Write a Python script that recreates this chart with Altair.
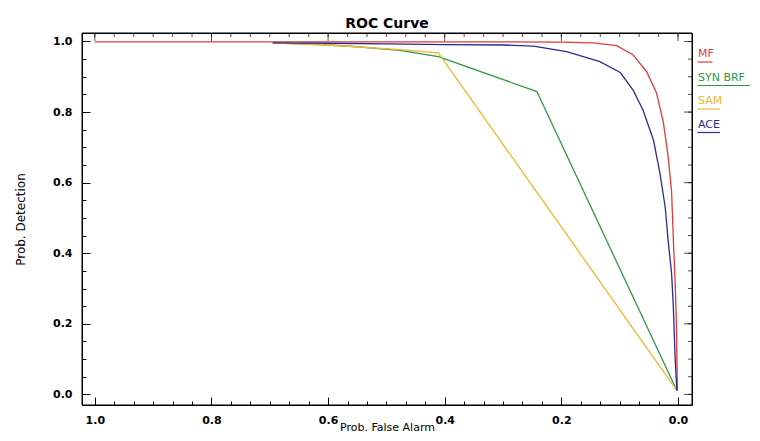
import altair as alt
import pandas as pd

# ---- data (x = Prob. False Alarm, y = Prob. Detection)
series_names = ["MF", "SYN BRF", "SAM", "ACE"]
series_colors = ["#e03a3a", "#2f9a45", "#f2b630", "#2b2b92"]

mf_fa = [1.0, 0.6, 0.3, 0.2, 0.145, 0.105, 0.077, 0.054, 0.037, 0.025, 0.017, 0.011, 0.008, 0.005, 0.003, 0.001]
mf_pd = [0.999, 0.999, 0.999, 0.998, 0.996, 0.988, 0.962, 0.915, 0.855, 0.77, 0.675, 0.575, 0.44, 0.32, 0.22, 0.01]

syn_fa = [0.695, 0.6, 0.55, 0.477, 0.411, 0.242, 0.002]
syn_pd = [0.996, 0.99, 0.985, 0.975, 0.957, 0.858, 0.011]

sam_fa = [0.695, 0.6, 0.477, 0.411, 0.002]
sam_pd = [0.996, 0.99, 0.977, 0.968, 0.011]

ace_fa = [0.695, 0.6, 0.5, 0.4, 0.3, 0.248, 0.191, 0.134, 0.099, 0.077, 0.060, 0.042, 0.031, 0.022, 0.017, 0.011, 0.008, 0.005, 0.002]
ace_pd = [0.996, 0.995, 0.993, 0.991, 0.99, 0.987, 0.971, 0.943, 0.912, 0.862, 0.806, 0.72, 0.627, 0.531, 0.437, 0.343, 0.248, 0.106, 0.011]

x_major = [0.0, 0.2, 0.4, 0.6, 0.8, 1.0]
x_minor = [round(k / 30, 4) for k in range(31)]
y_major = [0.0, 0.2, 0.4, 0.6, 0.8, 1.0]
y_minor = [round(k * 0.05, 3) for k in range(21)]

x_lo, x_hi = -0.024, 1.022
y_lo, y_hi = -0.03, 1.024

rows = []
for name, fa, pdv in [("MF", mf_fa, mf_pd), ("SYN BRF", syn_fa, syn_pd),
                      ("SAM", sam_fa, sam_pd), ("ACE", ace_fa, ace_pd)]:
    for i, (a, b) in enumerate(zip(fa, pdv)):
        rows.append({"series": name, "fa": a, "pd": b, "idx": i})
df = pd.DataFrame(rows)

W, H = 610, 372
FONT = "DejaVu Sans"
xscale = alt.Scale(domain=[x_lo, x_hi], reverse=True, nice=False, zero=False)
yscale = alt.Scale(domain=[y_lo, y_hi], nice=False, zero=False)

common = dict(grid=False, tickColor="black", tickWidth=1, domain=False,
              labelFlush=False, labelOverlap=False)

label_color_expr = ""
for n, c in zip(series_names[:-1], series_colors[:-1]):
    label_color_expr += f"datum.value === '{n}' ? '{c}' : "
label_color_expr += f"'{series_colors[-1]}'"

# underline drawn as the legend symbol, running under the label text
underline_expr = "'M1.1,1.6L' + (1.1 + length(datum.value) * 1.5) + ',1.6'"

legend = alt.Legend(
    title=None, orient="none", legendX=604, legendY=15, padding=0,
    labelFont=FONT, labelFontSize=11, labelColor={"expr": label_color_expr},
    labelOffset=0, symbolOffset=0, symbolSize=100, symbolStrokeWidth=1.2,
    symbolType={"expr": underline_expr}, rowPadding=6.5, labelBaseline="middle",
)

base = alt.Chart(df)

lines = base.mark_line(strokeWidth=1.3).encode(
    x=alt.X("fa:Q", scale=xscale, axis=alt.Axis(
        orient="bottom", values=x_major, offset=-8, tickSize=8, labelPadding=9,
        format=".1f", labelFont=FONT, labelFontSize=11,
        labelFontWeight="bold", labelColor="black", title="Prob. False Alarm",
        titleFont=FONT, titleFontSize=11, titleFontWeight="normal",
        titleColor="black", titleY=33, titleBaseline="alphabetic", **common)),
    y=alt.Y("pd:Q", scale=yscale, axis=alt.Axis(
        orient="left", values=y_major, offset=-8, tickSize=8, labelPadding=10,
        format=".1f", labelFont=FONT, labelFontSize=11,
        labelFontWeight="bold", labelColor="black", title="Prob. Detection",
        titleFont=FONT, titleFontSize=12, titleFontWeight="normal",
        titleColor="black", titleX=-70, titleBaseline="middle", **common)),
    color=alt.Color("series:N", scale=alt.Scale(domain=series_names, range=series_colors),
                    legend=legend),
    order=alt.Order("idx:Q"),
)

minor_bl = base.mark_line(opacity=0).encode(
    x=alt.X("fa:Q", scale=xscale, axis=alt.Axis(
        orient="bottom", values=x_minor, offset=-4, tickSize=4, labels=False,
        title=None, **common)),
    y=alt.Y("pd:Q", scale=yscale, axis=alt.Axis(
        orient="left", values=y_minor, offset=-4, tickSize=4, labels=False,
        title=None, **common)),
    detail="series:N",
    order=alt.Order("idx:Q"),
)

# plot frame drawn at the scale-domain limits
frame = alt.Chart(pd.DataFrame({"k": [0]})).mark_rect(
    filled=False, stroke="black", strokeWidth=1
).encode(
    x=alt.X(datum=x_lo, scale=xscale, axis=None), x2=alt.X2(datum=x_hi),
    y=alt.Y(datum=y_lo, scale=yscale, axis=None), y2=alt.Y2(datum=y_hi),
)

# inward ticks on the top and right edges
def top_ticks(vals, size):
    return alt.Chart(pd.DataFrame({"v": vals})).mark_tick(
        orient="vertical", size=size, thickness=1, color="black", yOffset=size / 2
    ).encode(x=alt.X("v:Q", scale=xscale, axis=None),
             y=alt.Y(datum=y_hi, scale=yscale, axis=None))


def right_ticks(vals, size):
    return alt.Chart(pd.DataFrame({"v": vals})).mark_tick(
        orient="horizontal", size=size, thickness=1, color="black", xOffset=-size / 2
    ).encode(y=alt.Y("v:Q", scale=yscale, axis=None),
             x=alt.X(datum=x_lo, scale=xscale, axis=None))


chart = alt.layer(
    lines, minor_bl, frame,
    top_ticks(x_major, 8), top_ticks(x_minor, 4),
    right_ticks(y_major, 8), right_ticks(y_minor, 4),
).resolve_axis(x="independent", y="independent").properties(
    width=W, height=H,
    background="white",
    autosize=alt.AutoSizeParams(type="none"),
    padding={"left": 74, "top": 25, "right": 60, "bottom": 28},
    title=alt.TitleParams("ROC Curve", font=FONT, fontSize=14, fontWeight="bold",
                          anchor="middle", frame="group", baseline="alphabetic",
                          offset=6, dy=15, color="black"),
).configure_view(stroke="black", strokeWidth=1)

chart.save("out.html", embed_options={"renderer": "svg", "actions": False})
